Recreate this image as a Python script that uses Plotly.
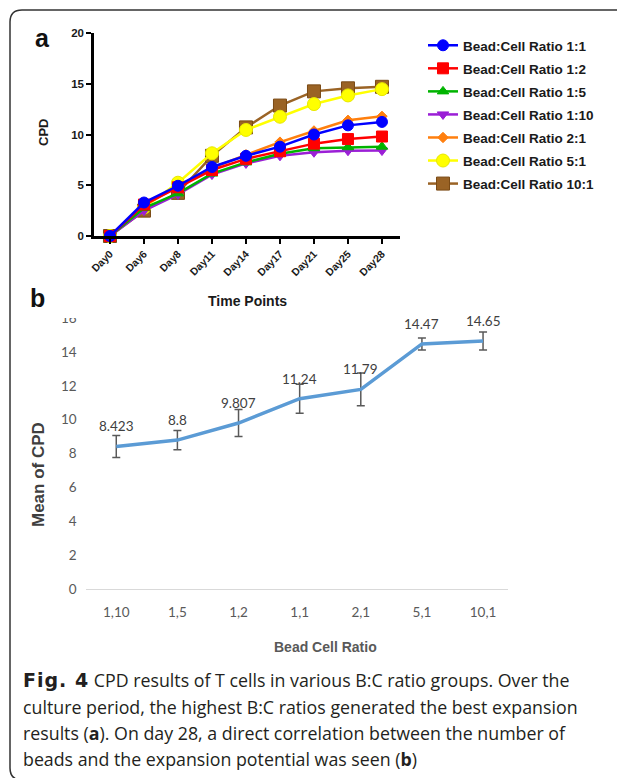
import plotly.graph_objects as go

# page body adds an 8px margin, so the figure is 8px smaller and coordinates are shifted
OFF = 8
W, H = 625 - OFF, 778 - OFF

# ---------------- data: panel a ----------------
days = ["Day0", "Day6", "Day8", "Day11", "Day14", "Day17", "Day21", "Day25", "Day28"]
series_names = ["Bead:Cell Ratio 1:1", "Bead:Cell Ratio 1:2", "Bead:Cell Ratio 1:5",
                "Bead:Cell Ratio 1:10", "Bead:Cell Ratio 2:1", "Bead:Cell Ratio 5:1",
                "Bead:Cell Ratio 10:1"]
cpd_1_1 = [0, 3.3, 4.95, 6.8, 7.9, 8.8, 10.0, 10.9, 11.24]
cpd_1_2 = [0, 3.1, 4.8, 6.5, 7.6, 8.35, 9.1, 9.55, 9.8]
cpd_1_5 = [0, 2.75, 4.2, 6.15, 7.25, 8.1, 8.65, 8.75, 8.8]
cpd_1_10 = [0, 2.5, 4.1, 6.05, 7.15, 7.9, 8.25, 8.4, 8.42]
cpd_2_1 = [0, 3.0, 4.9, 6.7, 8.0, 9.25, 10.35, 11.4, 11.79]
cpd_5_1 = [0, 2.8, 5.25, 8.15, 10.45, 11.75, 13.0, 13.85, 14.47]
cpd_10_1 = [0, 2.5, 4.25, 7.9, 10.7, 12.85, 14.25, 14.55, 14.7]

# ---------------- data: panel b ----------------
ratios_b = ["1,10", "1,5", "1,2", "1,1", "2,1", "5,1", "10,1"]
mean_cpd = [8.423, 8.8, 9.807, 11.24, 11.79, 14.47, 14.65]
err_cpd = [0.65, 0.57, 0.79, 0.86, 0.96, 0.35, 0.53]
labels_b = ["8.423", "8.8", "9.807", "11.24", "11.79", "14.47", "14.65"]

caption_lines = [
    "<span style=\"font-family:'DejaVu Sans';font-size:19px;letter-spacing:1px\"><b>Fig. 4</b></span>"
    " CPD results of T cells in various B:C ratio groups. Over the",
    "culture period, the highest B:C ratios generated the best expansion",
    "results (<b>a</b>). On day 28, a direct correlation between the number of",
    "beads and the expansion potential was seen (<b>b</b>)",
]

# ---------------- helpers (screen pixel -> paper fraction) ----------------
def px(x):
    return (x - OFF) / W

def py(y):
    return 1 - (y - OFF) / H

ARIAL = "Liberation Sans, Arial, sans-serif"
CAL = "Lato, Carlito, Calibri, sans-serif"
CAP = "Open Sans, sans-serif"

series_values = [cpd_1_1, cpd_1_2, cpd_1_5, cpd_1_10, cpd_2_1, cpd_5_1, cpd_10_1]
colors = ["#0000FF", "#FF0000", "#00B400", "#9B1FD6", "#FF7F0E", "#FFFF00", "#9A6325"]
symbols = ["circle", "square", "triangle-up", "triangle-down", "diamond", "circle", "square"]
sizes = [11, 11, 10, 10, 8, 13, 13]
outline = ["#0000FF", "#FF0000", "#00B400", "#9B1FD6", "#FF7F0E", "#E8E800", "#7A4A15"]

fig = go.Figure()

# draw from back (10:1) to front (1:1)
for i in reversed(range(len(series_names))):
    fig.add_trace(go.Scatter(
        x=days, y=series_values[i], name=series_names[i],
        mode="lines+markers", xaxis="x", yaxis="y",
        line=dict(color=colors[i], width=2.5),
        marker=dict(symbol=symbols[i], size=sizes[i], color=colors[i],
                    line=dict(color=outline[i], width=1)),
        cliponaxis=False, legendrank=i + 1, legendgroup=f"g{i}",
    ))

# panel b
fig.add_trace(go.Scatter(
    x=ratios_b, y=mean_cpd, mode="lines", xaxis="x2", yaxis="y2",
    line=dict(color="#5B9BD5", width=3.5),
    error_y=dict(type="data", array=err_cpd, visible=True, color="#595959",
                 thickness=1.5, width=4),
    showlegend=False, cliponaxis=False,
))

annotations = []
for cat, val, lab in zip(ratios_b, mean_cpd, labels_b):
    annotations.append(dict(x=cat, y=val, xref="x2", yref="y2", text=lab,
                            showarrow=False, yshift=20,
                            font=dict(family=CAL, size=13.5, color="#404040")))

def label(x, y, text, size, color, angle=0):
    return dict(x=px(x), y=py(y), xref="paper", yref="paper", text=text,
                showarrow=False, xanchor="center", yanchor="middle", textangle=angle,
                font=dict(family=ARIAL, size=size, color=color))

annotations += [
    label(42, 38, "<b>a</b>", 25, "#111111"),
    label(37, 298, "<b>b</b>", 25, "#111111"),
    label(43, 133, "<b>CPD</b>", 13, "#1a1a1a", -90),
    label(247, 301, "<b>Time Points</b>", 14, "#1a1a1a"),
    label(38, 475, "<b>Mean of CPD</b>", 17, "#404040", -90),
    label(326, 647, "<b>Bead Cell Ratio</b>", 14, "#595959"),
]
cap_y = [680, 707, 733, 759]
for line, yy in zip(caption_lines, cap_y):
    annotations.append(dict(x=px(21), y=py(yy), xref="paper", yref="paper", text=line,
                            showarrow=False, xanchor="left", yanchor="middle",
                            font=dict(family=CAP, size=17.8, color="#231F20")))

shapes = [
    # frame with rounded corners
    dict(type="path", xref="paper", yref="paper", layer="above",
         path=(f"M {px(640)} {py(10)} L {px(22)} {py(10)} "
               f"Q {px(10)} {py(10)} {px(10)} {py(22)} "
               f"L {px(10)} {py(768)} Q {px(10)} {py(780)} {px(22)} {py(780)}"),
         line=dict(color="#333333", width=1.5)),
    # cover top half of the clipped "16" label
    dict(type="rect", xref="paper", yref="paper", layer="above",
         x0=px(55), x1=px(84), y0=py(303), y1=py(318),
         fillcolor="white", line=dict(width=0)),
]

fig.update_layout(
    width=W, height=H, autosize=False,
    margin=dict(l=0, r=0, t=0, b=0, autoexpand=False),
    paper_bgcolor="white", plot_bgcolor="white",
    showlegend=True,
    legend=dict(x=px(423), y=py(30), xanchor="left", yanchor="top",
                font=dict(family=ARIAL, size=13.5, color="#1a1a1a", weight="bold"),
                tracegroupgap=2.5, bgcolor="rgba(0,0,0,0)", itemwidth=30),
    xaxis=dict(domain=[px(94), px(400)], type="category", range=[-0.47, 8.53],
               showline=True, linecolor="black", linewidth=2.5, ticks="outside",
               ticklen=5, tickwidth=2, tickcolor="black", tickangle=-45,
               tickfont=dict(family=ARIAL, size=10.5, color="#1a1a1a", weight="bold"),
               showgrid=False, zeroline=False, anchor="y", fixedrange=True),
    yaxis=dict(domain=[py(236), py(33)], range=[0, 20], tickvals=[0, 5, 10, 15, 20],
               showline=True, linecolor="black", linewidth=2.5, ticks="outside",
               ticklen=5, tickwidth=2, tickcolor="black",
               tickfont=dict(family=ARIAL, size=11.5, color="#1a1a1a", weight="bold"),
               showgrid=False, zeroline=False, anchor="x", fixedrange=True),
    xaxis2=dict(domain=[px(85.7), px(507.5)], type="category", range=[-0.5, 6.4],
                showline=True, linecolor="#D9D9D9", linewidth=1, ticks="",
                tickfont=dict(family=CAL, size=13.5, color="#595959"),
                ticklabelstandoff=10,
                showgrid=False, zeroline=False, anchor="y2", fixedrange=True),
    yaxis2=dict(domain=[py(589.3), py(318)], range=[0, 16], dtick=2,
                showline=False, ticks="", showgrid=False, zeroline=False,
                tickfont=dict(family=CAL, size=13.5, color="#595959"),
                ticklabelstandoff=8, anchor="x2", fixedrange=True),
    annotations=annotations,
    shapes=shapes,
)

fig.write_html("out.html")
